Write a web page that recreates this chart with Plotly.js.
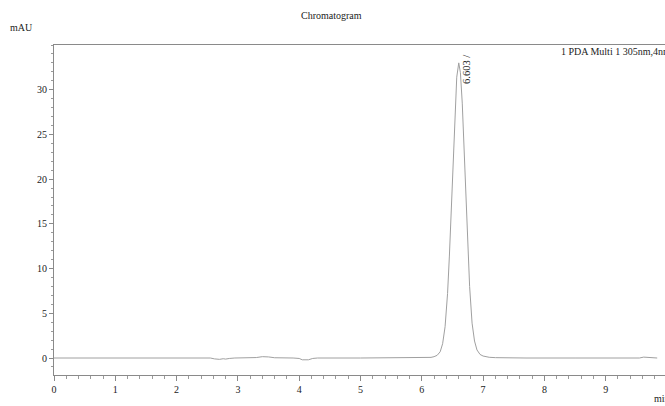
<!DOCTYPE html>
<html>
<head>
<meta charset="utf-8">
<script src="https://cdn.plot.ly/plotly-3.0.1.min.js"></script>
<style>
html,body{margin:0;padding:0;background:#fff;overflow:hidden;}
#chart{width:720px;height:406px;}
</style>
</head>
<body>
<div id="chart"></div>
<script>
// Retention time (min)
var timeMin = [0, 1.0, 2.0, 2.55, 2.62, 2.70, 2.76, 2.80, 2.86, 2.95, 3.30, 3.40, 3.50, 3.60, 3.90, 4.00, 4.05, 4.15, 4.22, 4.30, 5.00, 5.80,
  6.00, 6.05, 6.10, 6.15, 6.20, 6.25, 6.30, 6.34, 6.38, 6.42, 6.45, 6.48, 6.51, 6.54, 6.57, 6.603, 6.63, 6.66, 6.69, 6.72, 6.75, 6.78,
  6.82, 6.86, 6.90, 6.95, 7.00, 7.05, 7.10, 7.20, 7.30, 7.40, 7.55, 7.70, 8.50, 9.55, 9.62, 9.68, 9.75, 9.84];
// Absorbance (mAU)
var absorbance = [0, 0, 0, 0, -0.10, -0.15, -0.08, -0.12, -0.05, 0, 0.05, 0.15, 0.12, 0.03, 0, -0.05, -0.20, -0.20, -0.05, 0, 0, 0,
  0.01, 0.01, 0.03, 0.07, 0.15, 0.30, 0.70, 1.6, 3.5, 7.2, 11.4, 16.6, 22.3, 27.6, 31.4, 33.0, 31.9, 28.5, 23.4, 17.7, 12.4, 8.0,
  3.9, 1.9, 0.9, 0.4, 0.22, 0.13, 0.08, 0.04, 0.03, 0.02, 0.01, 0, 0, 0, 0.10, 0.05, 0, 0];
var peakTimes = [6.603];
var peakLabels = ["6.603 /"];
var xTickVals = [0,1,2,3,4,5,6,7,8,9];
var yTickVals = [0,5,10,15,20,25,30];

var fontFam = "Liberation Serif, Times New Roman, serif";
var txtColor = "#222";

var trace = {
  x: timeMin, y: absorbance, type: 'scatter', mode: 'lines',
  line: {color: '#a0a0a0', width: 1}, hoverinfo: 'skip', showlegend: false
};

var annotations = [
  {text: 'Chromatogram', xref: 'paper', yref: 'paper', x: 0.4535, y: 1.0909, showarrow: false, xanchor: 'center', yanchor: 'middle', font: {family: fontFam, size: 10, color: txtColor}},
  {text: 'mAU', xref: 'paper', yref: 'paper', x: -0.0538, y: 1.0545, showarrow: false, xanchor: 'center', yanchor: 'middle', font: {family: fontFam, size: 10, color: txtColor}},
  {text: 'min', xref: 'paper', yref: 'paper', x: 0.9755, y: -0.0697, showarrow: false, xanchor: 'left', yanchor: 'middle', font: {family: fontFam, size: 10, color: txtColor}},
  {text: '1 PDA Multi 1 305nm,4nm', xref: 'paper', yref: 'paper', x: 0.8238, y: 0.9788, showarrow: false, xanchor: 'left', yanchor: 'middle', font: {family: fontFam, size: 10, color: txtColor}}
];
for (var i = 0; i < peakTimes.length; i++) {
  annotations.push({text: peakLabels[i], x: peakTimes[i] + 0.115, y: 32.3, xref: 'x', yref: 'y', showarrow: false, textangle: -90, xanchor: 'center', yanchor: 'middle', font: {family: fontFam, size: 10.5, color: txtColor}});
}

var layout = {
  width: 720, height: 406,
  margin: {l: 54, r: 53, t: 45, b: 31},
  paper_bgcolor: '#fff', plot_bgcolor: '#fff',
  showlegend: false,
  xaxis: {
    range: [0, 10], tickvals: xTickVals, ticktext: xTickVals.map(String),
    showgrid: false, zeroline: false, showline: true, mirror: true, linecolor: '#8a8a8a', linewidth: 1,
    ticks: 'outside', ticklen: 5, tickcolor: '#8a8a8a', tickfont: {family: fontFam, size: 10, color: txtColor},
    minor: {dtick: 0.2, ticks: 'outside', ticklen: 3, tickcolor: '#9a9a9a', showgrid: false}
  },
  yaxis: {
    range: [-1.9, 35.0], tickvals: yTickVals, ticktext: yTickVals.map(String),
    showgrid: false, zeroline: false, showline: true, mirror: true, linecolor: '#8a8a8a', linewidth: 1,
    ticks: 'outside', ticklen: 4, tickcolor: '#8a8a8a', tickfont: {family: fontFam, size: 10, color: txtColor},
    minor: {dtick: 1, ticks: 'outside', ticklen: 2, tickcolor: '#9a9a9a', showgrid: false}
  },
  annotations: annotations
};

Plotly.newPlot('chart', [trace], layout, {staticPlot: true, displayModeBar: false});
</script>
</body>
</html>
